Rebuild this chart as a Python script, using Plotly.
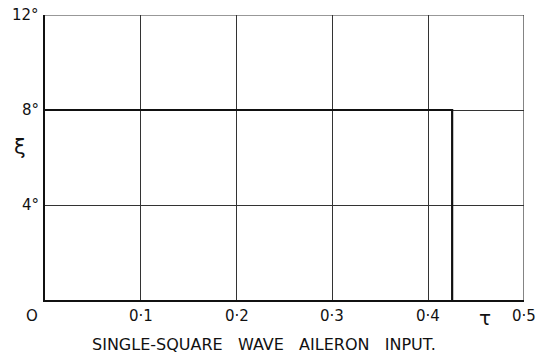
import plotly.graph_objects as go

# Single-square-wave aileron input: deflection xi (deg) against time tau
tau = [0.0, 0.425, 0.425]
xi = [8, 8, 0]

x_ticks = [0.1, 0.2, 0.3, 0.4, 0.5]
x_tick_labels = ["0·1", "0·2", "0·3", "0·4", "0·5"]
y_ticks = [4, 8, 12]
y_tick_labels = ["4°", "8°", "12°"]

FONT = "DejaVu Sans"
INK = "#111111"
GRID = "#333333"

fig = go.Figure()
fig.add_trace(go.Scatter(
    x=tau, y=xi, mode="lines",
    line=dict(color=INK, width=2.2),
    hoverinfo="skip", showlegend=False,
))

axis_common = dict(
    showgrid=True, gridcolor=GRID, gridwidth=1,
    zeroline=False, showline=True, linecolor=INK, linewidth=2,
    ticks="", showticklabels=False, fixedrange=True,
)
fig.update_layout(
    width=544, height=359,
    margin=dict(l=45, r=20, t=15, b=59),
    paper_bgcolor="white", plot_bgcolor="white",
    font=dict(family=FONT, size=15, color=INK),
    xaxis=dict(range=[0, 0.5], tickvals=x_ticks, **axis_common),
    yaxis=dict(range=[0, 12], tickvals=y_ticks, **axis_common),
)

# outer frame lines at the top (12 deg) and right (tau = 0.5)
fig.add_shape(type="line", xref="paper", yref="y", x0=0, x1=1,
              y0=max(y_ticks), y1=max(y_ticks), line=dict(color=GRID, width=1.2))
fig.add_shape(type="line", xref="x", yref="paper", x0=max(x_ticks),
              x1=max(x_ticks), y0=0, y1=1, line=dict(color=GRID, width=1.2))

# tick labels
for v, t in zip(x_ticks, x_tick_labels):
    fig.add_annotation(x=v, y=-0.057, xref="x", yref="paper", text=t,
                       showarrow=False, xanchor="center", yanchor="middle",
                       font=dict(size=15))
for v, t in zip(y_ticks, y_tick_labels):
    fig.add_annotation(x=-0.008, y=v, xref="paper", yref="y", text=t,
                       showarrow=False, xanchor="right", yanchor="middle",
                       font=dict(size=15))

annotations = [
    # origin label, set a little left of the corner
    dict(text="O", x=32, y=316, font=dict(size=15)),
    # axis symbols
    dict(text="ξ", x=20, y=147, font=dict(size=21)),
    dict(text="τ", x=485, y=318, font=dict(size=20)),
    # caption
    dict(text="SINGLE-SQUARE   WAVE   AILERON   INPUT.", x=264, y=344,
         font=dict(size=16)),
]
for a in annotations:
    px, py = a.pop("x"), a.pop("y")
    a.update(xref="paper", yref="paper",
             x=(px - 45) / 479, y=(300 - py) / 285,
             xanchor="center", yanchor="middle", showarrow=False)
    fig.add_annotation(**a)

fig.write_html("out.html")
